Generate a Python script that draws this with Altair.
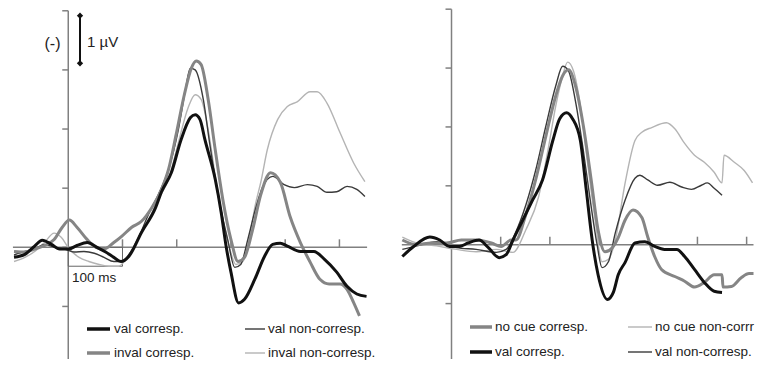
import altair as alt
import pandas as pd

# ---------------- data (time in ms, amplitude in axis-tick units, negative plotted up) ----------
# Left panel
L_vc_t = [-100, -80, -62, -48, -31, -16, 0, 16, 35, 53, 69, 84, 97, 112, 135, 161, 172, 190, 208, 225,
          234, 243, 252, 271, 282, 291, 300, 314, 325, 344, 362, 377, 391, 404, 428, 453, 472, 495, 514, 532, 550]
L_vc_v = [-0.17, -0.12, 0.02, 0.12, 0.05, -0.03, -0.03, 0.03, 0.08, 0, -0.08, -0.17, -0.24, -0.15, 0.25, 0.67, 0.94, 1.26, 1.82, 2.19,
          2.24, 2.16, 1.82, 1.15, 0.59, 0.02, -0.42, -0.94, -0.88, -0.54, -0.15, 0.05, 0.07, 0.02, -0.07, -0.07, -0.20, -0.42, -0.66, -0.79, -0.83]

L_vn_t = [-100, -80, -62, -44, -26, -7, 11, 29, 48, 66, 84, 99, 112, 130, 148, 166, 185, 203, 216, 225,
          234, 249, 261, 276, 294, 307, 318, 331, 345, 358, 377, 398, 417, 441, 459, 477, 495, 514, 532, 547]
L_vn_v = [-0.13, -0.07, -0.03, 0.05, 0, -0.03, -0.08, -0.07, -0.10, -0.17, -0.24, -0.24, -0.12, 0.17, 0.56, 0.89, 1.32, 1.99, 2.66, 3.03,
          3.00, 2.50, 1.74, 0.89, 0.13, -0.34, -0.29, 0.13, 0.64, 1.01, 1.20, 1.06, 1.01, 1.06, 1.03, 0.93, 0.94, 1.03, 0.98, 0.86]

L_ic_t = [-100, -80, -62, -44, -26, -11, 2, 16, 35, 51, 66, 84, 99, 117, 135, 154, 172, 185, 199, 214,
          227, 236, 245, 258, 271, 285, 300, 313, 325, 340, 355, 373, 391, 409, 428, 446, 464, 481, 501, 514, 526, 537]
L_ic_v = [-0.07, -0.08, -0.03, 0.03, 0.13, 0.34, 0.46, 0.34, 0.13, 0, -0.03, 0.08, 0.19, 0.34, 0.44, 0.67, 0.98, 1.32, 1.91, 2.58,
          3.03, 3.15, 3.09, 2.50, 1.65, 0.81, 0.13, -0.24, -0.17, 0.30, 0.89, 1.26, 1.10, 0.52, 0.08, -0.25, -0.54, -0.62, -0.62, -0.71, -0.93, -1.16]

L_in_t = [-100, -80, -62, -44, -26, -13, 2, 20, 38, 57, 75, 93, 112, 130, 148, 166, 185, 203, 221, 234,
          245, 258, 272, 287, 298, 309, 322, 335, 345, 355, 367, 386, 404, 422, 446, 459, 477, 501, 526, 547]
L_in_v = [-0.24, -0.17, -0.07, 0.08, 0.24, 0.17, -0.03, -0.17, -0.24, -0.29, -0.32, -0.32, -0.12, 0.17, 0.47, 0.81, 1.15, 1.77, 2.36, 2.58,
          2.50, 1.99, 1.15, 0.39, -0.03, -0.29, -0.24, 0.22, 0.72, 1.10, 1.65, 2.16, 2.38, 2.46, 2.63, 2.63, 2.44, 1.94, 1.43, 1.11]

# Right panel
R_vc_t = [-100, -77, -44, -24, -4, 16, 34, 56, 75, 97, 111, 125, 145, 165, 185, 206, 220, 234, 246, 262,
          274, 286, 298, 317, 329, 339, 353, 373, 393, 413, 433, 458, 474, 494, 514, 534, 550]
R_vc_v = [-0.20, -0.03, 0.13, 0.08, -0.03, -0.03, 0.03, 0.08, -0.05, -0.22, -0.17, 0.08, 0.42, 0.76, 1.10, 1.77, 2.14, 2.24, 2.14, 1.77,
          0.93, 0.08, -0.51, -0.93, -0.81, -0.51, -0.30, 0.03, 0.05, -0.03, -0.08, -0.08, -0.20, -0.42, -0.64, -0.79, -0.81]

R_vn_t = [-100, -71, -30, 10, 50, 91, 111, 131, 151, 171, 192, 212, 226, 238, 252, 268, 282, 296, 306, 319,
          333, 353, 373, 383, 399, 419, 444, 468, 488, 508, 520, 534, 550]
R_vn_v = [-0.08, -0.02, 0.05, -0.05, -0.08, -0.13, -0.08, 0.22, 0.67, 1.26, 2.02, 2.70, 3.03, 2.95, 2.44, 1.60, 0.76, 0, -0.39, -0.29,
          0.20, 0.76, 1.13, 1.18, 1.10, 1.01, 1.06, 0.98, 0.94, 1.01, 1.05, 0.96, 0.84]

R_nc_t = [-100, -71, -40, -10, 20, 50, 81, 101, 121, 131, 151, 171, 192, 212, 226, 238, 252, 268, 284, 298,
          312, 327, 339, 353, 369, 387, 399, 413, 427, 454, 474, 494, 514, 534, 550, 552, 569, 589, 605, 614]
R_nc_v = [0.08, 0, 0.03, 0.03, 0.08, 0.08, 0.03, -0.03, 0.08, 0.08, 0.51, 1.10, 1.85, 2.53, 2.87, 2.97, 2.70, 2.02, 1.10, 0.25,
          -0.12, -0.05, 0.12, 0.42, 0.59, 0.46, 0.13, -0.20, -0.42, -0.54, -0.62, -0.72, -0.64, -0.51, -0.51, -0.72, -0.71, -0.56, -0.49, -0.49]

R_nn_t = [-100, -71, -30, 10, 50, 91, 115, 125, 151, 177, 196, 212, 226, 236, 248, 262, 276, 292, 306, 319,
          333, 353, 373, 387, 407, 437, 454, 474, 494, 514, 534, 550, 554, 575, 595, 612]
R_nn_v = [0.13, 0.03, -0.02, -0.08, -0.12, -0.08, -0.12, -0.13, 0.25, 0.81, 1.60, 2.36, 2.87, 3.10, 2.95, 2.36, 1.43, 0.42, -0.29, -0.25,
          0.08, 1.05, 1.77, 1.91, 1.99, 2.07, 1.97, 1.72, 1.52, 1.40, 1.23, 1.05, 1.52, 1.40, 1.26, 1.05]

y_ticks = [-2, -1, 0, 1, 2, 3, 4]
L_x_ticks = [100, 200, 300, 400, 500]
R_x_ticks = [100, 200, 300, 400, 500, 600]

# ---------------- styling / layout ----------------
BLACK, DARK, MID, LIGHT = "#111111", "#3a3a3a", "#858585", "#b4b4b4"
AX = "#808080"
FONT = "Liberation Sans"
W, H = 752, 352


def build_df(series):
    rows = []
    for name, ts, vs in series:
        for t, v in zip(ts, vs):
            rows.append({"s": name, "t": t, "v": v})
    return pd.DataFrame(rows)


def panel(series, styles, xdom, xspan, ydom, yspan, xticks, legend, extras, text_limit):
    """xdom: full scale domain over the whole width; xspan: drawn time range."""
    df = build_df(series)

    def X(f):
        return alt.X(f, type="quantitative", scale=alt.Scale(domain=xdom, nice=False, zero=False), axis=None)

    def Y(f):
        return alt.Y(f, type="quantitative", scale=alt.Scale(domain=ydom, nice=False, zero=False), axis=None)

    yt = [v for v in y_ticks if yspan[0] <= v <= yspan[1]]
    layers = []
    layers.append(alt.Chart(pd.DataFrame({"a": [xspan[0]], "b": [xspan[1]], "z": [0]}))
                  .mark_rule(color=AX, strokeWidth=1.5)
                  .encode(x=X("a"), x2="b", y=Y("z")))
    layers.append(alt.Chart(pd.DataFrame({"z": [0], "lo": [yspan[0]], "hi": [yspan[1]]}))
                  .mark_rule(color=AX, strokeWidth=1.5)
                  .encode(x=X("z"), y=Y("lo"), y2="hi"))
    layers.append(alt.Chart(pd.DataFrame({"z": [0] * len(yt), "v": yt}))
                  .mark_rule(color=AX, strokeWidth=1.5, x2Offset=-6)
                  .encode(x=X("z"), x2="z", y=Y("v")))
    layers.append(alt.Chart(pd.DataFrame({"t": xticks, "z": [0] * len(xticks)}))
                  .mark_rule(color=AX, strokeWidth=1.5, y2Offset=-8)
                  .encode(x=X("t"), y=Y("z"), y2="z"))
    layers += extras(X, Y)
    for name, color, w in styles:
        layers.append(alt.Chart(df).transform_filter(alt.datum.s == name)
                      .mark_line(color=color, strokeWidth=w, interpolate="monotone")
                      .encode(x=X("t"), y=Y("v")))
    one = pd.DataFrame({"a": [0]})
    for label, color, w, x1, x2, tx, y in legend:
        layers.append(alt.Chart(one).mark_rule(color=color, strokeWidth=w)
                      .encode(x=alt.value(x1), x2=alt.value(x2), y=alt.value(y)))
        layers.append(alt.Chart(one).mark_text(text=label, align="left", baseline="middle",
                                               font=FONT, fontSize=13.5, color="#222222",
                                               limit=text_limit, ellipsis="\u200b")
                      .encode(x=alt.value(tx), y=alt.value(y)))
    return alt.layer(*layers)


def left_extras(X, Y):
    out = []
    out.append(alt.Chart(pd.DataFrame({"a": [0], "b": [100], "c": [0], "d": [-0.32]}))
               .mark_rect(fillOpacity=0, stroke="#666666", strokeWidth=1)
               .encode(x=X("a"), x2="b", y=Y("c"), y2="d"))
    out.append(alt.Chart(pd.DataFrame({"t": [7], "v": [-0.59]}))
               .mark_text(text="100 ms", align="left", baseline="alphabetic", font=FONT, fontSize=13.5, color="#222222")
               .encode(x=X("t"), y=Y("v")))
    one = pd.DataFrame({"a": [0]})
    out.append(alt.Chart(one).mark_rule(color="#111111", strokeWidth=2)
               .encode(x=alt.value(72), y=alt.value(7.7), y2=alt.value(55.3)))
    for yy in (7.7, 55.3):
        out.append(alt.Chart(one).mark_point(shape="diamond", filled=True, size=40, color="#111111", opacity=1)
                   .encode(x=alt.value(72), y=alt.value(yy)))
    out.append(alt.Chart(one).mark_text(text="1 µV", align="left", baseline="alphabetic", font=FONT, fontSize=15, color="#222222")
               .encode(x=alt.value(79), y=alt.value(38.5)))
    out.append(alt.Chart(one).mark_text(text="(-)", align="center", baseline="middle", font=FONT, fontSize=16, color="#222222")
               .encode(x=alt.value(44.5), y=alt.value(36)))
    return out


def no_extras(X, Y):
    return []


# Left panel occupies plot x 5..362 (time -102..551), right panel 397..752 (time -101..615)
left = panel(
    [("val corresp.", L_vc_t, L_vc_v), ("val non-corresp.", L_vn_t, L_vn_v),
     ("inval corresp.", L_ic_t, L_ic_v), ("inval non-corresp.", L_in_t, L_in_v)],
    [("inval non-corresp.", LIGHT, 1.4), ("val non-corresp.", DARK, 1.4),
     ("inval corresp.", MID, 3), ("val corresp.", BLACK, 3)],
    [-111.1, 1264.4], [-102, 551],
    [-1.889, 4.047], [-1.889, 4],
    L_x_ticks,
    [("val corresp.", BLACK, 3.5, 79, 102, 106, 321),
     ("val non-corresp.", DARK, 1.4, 237, 257, 260, 321),
     ("inval corresp.", MID, 3.5, 79, 102, 106, 345),
     ("inval non-corresp.", LIGHT, 1.4, 237, 257, 260, 345)],
    left_extras, 130,
)

right = panel(
    [("no cue corresp.", R_nc_t, R_nc_v), ("no cue non-corrresp", R_nn_t, R_nn_v),
     ("val corresp.", R_vc_t, R_vc_v), ("val non-corresp.", R_vn_t, R_vn_v)],
    [("no cue non-corrresp", LIGHT, 1.4), ("val non-corresp.", DARK, 1.4),
     ("no cue corresp.", MID, 3), ("val corresp.", BLACK, 3)],
    [-901.7, 615], [-101, 614],
    [-1.941, 4.02], [-1.941, 4],
    R_x_ticks,
    [("no cue corresp.", MID, 3.5, 462, 484, 487, 319),
     ("no cue non-corrresp", LIGHT, 1.4, 620, 644, 647, 319),
     ("val corresp.", BLACK, 3.5, 462, 484, 487, 344),
     ("val non-corresp.", DARK, 1.4, 620, 644, 647, 344)],
    no_extras, 104,
)

chart = (alt.layer(left, right)
         .resolve_scale(x="independent", y="independent")
         .properties(width=W, height=H, padding=0, background="white",
                     autosize=alt.AutoSizeParams(type="fit", contains="padding"))
         .configure_view(stroke=None))

chart.save("out.html", embed_options={"renderer": "svg", "actions": False})
